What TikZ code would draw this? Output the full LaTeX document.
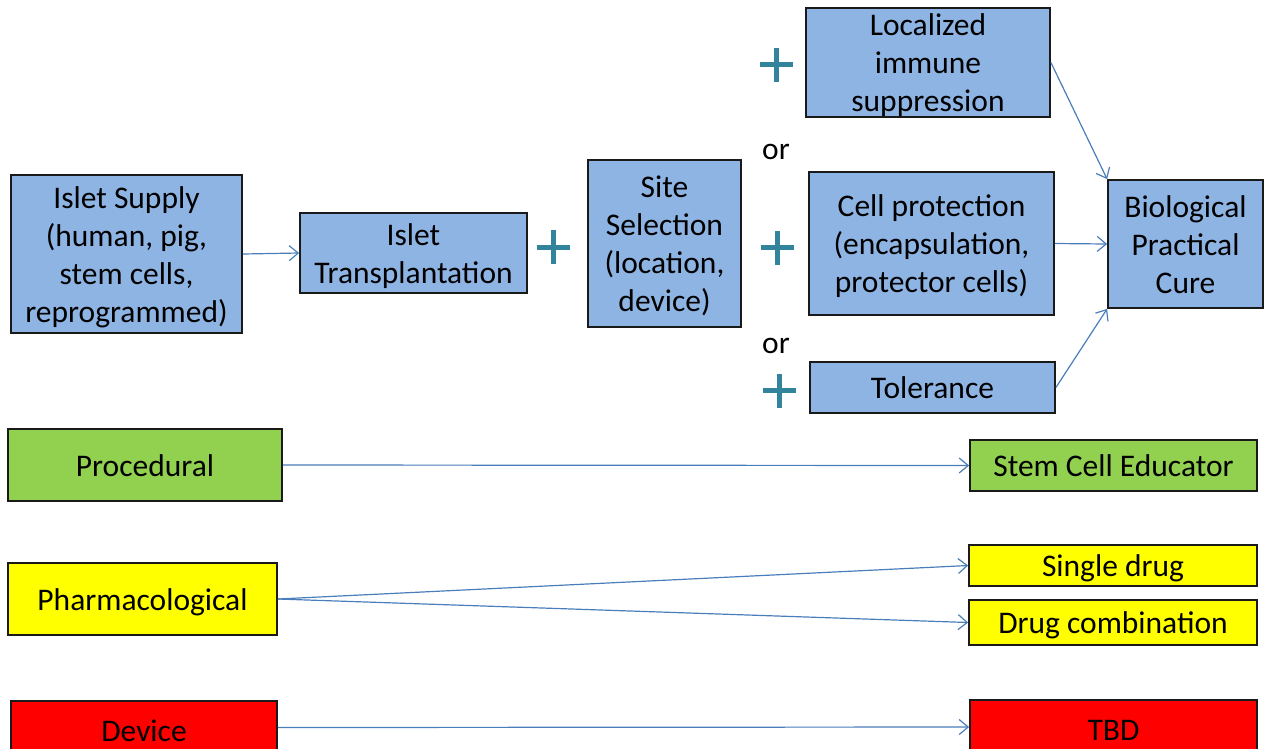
\documentclass[tikz,border=0pt]{standalone}
\usepackage{fontspec}
\setmainfont{Carlito}
\usetikzlibrary{arrows.meta}
\definecolor{boxblue}{HTML}{8EB4E3}
\definecolor{boxgreen}{HTML}{92D050}
\definecolor{boxyellow}{HTML}{FFFF00}
\definecolor{boxred}{HTML}{FF0000}
\definecolor{arrowblue}{HTML}{4A7EBB}
\definecolor{plusteal}{HTML}{31849B}
\definecolor{edgegray}{HTML}{1A1A1A}
\newcommand{\myStrutTop}{\rule{0pt}{26pt}}
\newcommand{\myStrutBot}{\rule[-3.6pt]{0pt}{0pt}}
\newcommand{\myLastLine}[1]{\raisebox{0pt}[\height][0pt]{#1}\myStrutBot}
\tikzset{
  box/.style={draw=edgegray, line width=1.8pt, inner sep=0pt, align=center,
    font=\fontsize{31.5}{38}\selectfont, text=black},
  bluebox/.style={box, fill=boxblue},
  greenbox/.style={box, fill=boxgreen},
  yellowbox/.style={box, fill=boxyellow},
  redbox/.style={box, fill=boxred},
  conn/.style={draw=arrowblue, line width=1.2pt, -{Straight Barb[length=9pt,width=15pt,line width=1.2pt]}},
  plusmark/.style={draw=plusteal, line width=5pt},
  ortext/.style={inner sep=0pt, anchor=base, font=\fontsize{31.5}{38}\selectfont, text=black}
}
\begin{document}
\begin{tikzpicture}[x=1pt,y=-1pt]
\path[use as bounding box] (0,0) rectangle (1265,748);
\clip (0,0) rectangle (1265,748);

% top row
\node[bluebox, minimum width=231pt, minimum height=158pt] (supply) at (126.5,254)
  {\myStrutTop Islet Supply\\(human, pig,\\stem cells,\\\myLastLine{reprogrammed)}};
\node[bluebox, minimum width=227pt, minimum height=80pt] (transp) at (413.5,253)
  {\myStrutTop Islet\\\myLastLine{Transplantation}};
\node[bluebox, minimum width=153pt, minimum height=167pt] (site) at (664.5,243.5)
  {\myStrutTop Site\\Selection\\(location,\\\myLastLine{device)}};
\node[bluebox, minimum width=244pt, minimum height=109pt] (local) at (928,62.5)
  {\myStrutTop Localized\\immune\\\myLastLine{suppression}};
\node[bluebox, minimum width=245pt, minimum height=143pt] (cellp) at (931.5,243.5)
  {\myStrutTop Cell protection\\(encapsulation,\\\myLastLine{protector cells)}};
\node[bluebox, minimum width=245pt, minimum height=51pt] (toler) at (932.5,387.5)
  {\myStrutTop\myLastLine{Tolerance}};
\node[bluebox, minimum width=155pt, minimum height=128pt] (bio) at (1185.5,244)
  {\myStrutTop Biological\\Practical\\\myLastLine{Cure}};

\node[ortext] (or1) at (776,159.5) {or};
\node[ortext] (or2) at (776,353) {or};

% plus signs
\coordinate (p1) at (553,247);
\coordinate (p2) at (776,64.5);
\coordinate (p3) at (777.5,247.5);
\coordinate (p4) at (779.5,390.5);
\foreach \p in {p1,p2,p3,p4}{
  \draw[plusmark] ([xshift=-16.5pt]\p) -- ([xshift=16.5pt]\p);
  \draw[plusmark] ([yshift=-17pt]\p) -- ([yshift=17pt]\p);
}

% lower rows
\node[greenbox, minimum width=274pt, minimum height=72pt] (proc) at (145,465)
  {\myStrutTop\myLastLine{Procedural}};
\node[greenbox, minimum width=287pt, minimum height=51pt] (sce) at (1113.5,465.5)
  {\myStrutTop\myLastLine{Stem Cell Educator}};
\node[yellowbox, minimum width=269pt, minimum height=72pt] (pharm) at (142.5,599)
  {\myStrutTop\myLastLine{Pharmacological}};
\node[yellowbox, minimum width=288pt, minimum height=41pt] (single) at (1113,565.5)
  {\myStrutTop\myLastLine{Single drug}};
\node[yellowbox, minimum width=288pt, minimum height=45pt] (combo) at (1113,622.5)
  {\myStrutTop\myLastLine{Drug combination}};
\node[redbox, minimum width=266pt, minimum height=59pt] (device) at (144,730.5)
  {\raisebox{4.5pt}{\myStrutTop\myLastLine{Device}}};
\node[redbox, minimum width=287pt, minimum height=60pt] (tbd) at (1113.5,730)
  {\raisebox{4.5pt}{\myStrutTop\myLastLine{TBD}}};

% connectors
\draw[conn] (supply.east) -- (transp.west);
\draw[conn] (local.east) -- (bio.north west);
\draw[conn] (cellp.east) -- (bio.west);
\draw[conn] (toler.east) -- (bio.south west);
\draw[conn] (proc.east) -- (sce.west);
\draw[conn] (pharm.east) -- (single.west);
\draw[conn] (pharm.east) -- (combo.west);
\draw[conn] ([yshift=3pt]device.east) -- ([yshift=3pt]tbd.west);
\end{tikzpicture}
\end{document}
